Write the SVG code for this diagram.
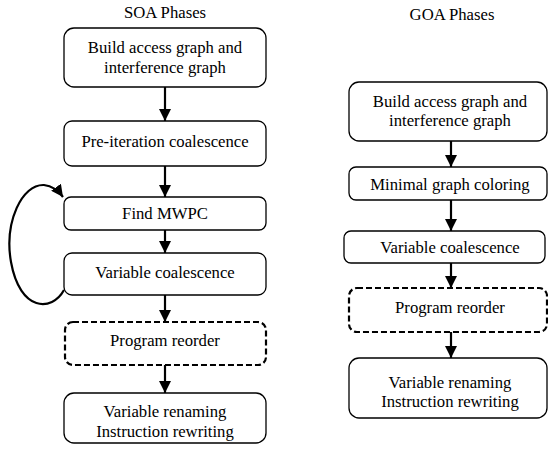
<svg xmlns="http://www.w3.org/2000/svg" width="548" height="453" viewBox="0 0 548 453" font-family="'Liberation Serif', 'Times New Roman', serif">
<defs>
<marker id="ah" markerUnits="userSpaceOnUse" markerWidth="12" markerHeight="12" viewBox="0 0 12 12" refX="12" refY="6" orient="auto">
<path d="M0,0 L12,6 L0,12 Z" fill="#000"/>
</marker>
<style>
text{font-family:"Liberation Serif","Times New Roman",serif;font-size:16.7px;fill:#000;text-anchor:middle}
.box{fill:#fff;stroke:#000;stroke-width:1.3}
.dash{fill:#fff;stroke:#000;stroke-width:2.2;stroke-dasharray:6,3}
.conn{fill:none;stroke:#000;stroke-width:2.2}
</style>
</defs>
<rect width="548" height="453" fill="#fff"/>
<text x="165" y="18">SOA Phases</text>
<text x="452" y="20">GOA Phases</text>
<g id="connectors">
<line class="conn" x1="165" y1="87" x2="165" y2="121" marker-end="url(#ah)"/>
<line class="conn" x1="165" y1="166" x2="165" y2="197" marker-end="url(#ah)"/>
<line class="conn" x1="165" y1="230" x2="165" y2="253" marker-end="url(#ah)"/>
<line class="conn" x1="165" y1="295" x2="165" y2="322" marker-end="url(#ah)"/>
<line class="conn" x1="165" y1="365" x2="165" y2="393" marker-end="url(#ah)"/>
<path class="conn" d="M64,290 C52,312 20,312 11,262 C4,222 22,184 44,185 C52,186 58,190 63,197" marker-end="url(#ah)"/>
<line class="conn" x1="451" y1="141" x2="451" y2="167" marker-end="url(#ah)"/>
<line class="conn" x1="451" y1="200" x2="451" y2="231" marker-end="url(#ah)"/>
<line class="conn" x1="451" y1="263" x2="451" y2="288" marker-end="url(#ah)"/>
<line class="conn" x1="451" y1="332" x2="451" y2="358" marker-end="url(#ah)"/>
</g>
<g id="soa1"><rect class="box" x="64" y="28" width="202" height="59" rx="10"/><text x="165" y="53">Build access graph and</text><text x="165" y="73">interference graph</text></g>
<g id="soa2"><rect class="box" x="64" y="121" width="202" height="45" rx="8"/><text x="165" y="147">Pre-iteration coalescence</text></g>
<g id="soa3"><rect class="box" x="64" y="197" width="202" height="33" rx="7"/><text x="165" y="219">Find MWPC</text></g>
<g id="soa4"><rect class="box" x="64" y="253" width="202" height="42" rx="8"/><text x="165" y="278">Variable coalescence</text></g>
<g id="soa5"><rect class="dash" x="65" y="322" width="201" height="43" rx="8"/><text x="165" y="346">Program reorder</text></g>
<g id="soa6"><rect class="box" x="64" y="393" width="202" height="50" rx="10"/><text x="165" y="417">Variable renaming</text><text x="165" y="437">Instruction rewriting</text></g>
<g id="goa1"><rect class="box" x="349" y="82" width="198" height="59" rx="10"/><text x="450" y="107">Build access graph and</text><text x="450" y="126">interference graph</text></g>
<g id="goa2"><rect class="box" x="349" y="167" width="198" height="33" rx="7"/><text x="450" y="190">Minimal graph coloring</text></g>
<g id="goa3"><rect class="box" x="344" y="231" width="201" height="32" rx="7"/><text x="450" y="253">Variable coalescence</text></g>
<g id="goa4"><rect class="dash" x="349" y="288" width="198" height="44" rx="8"/><text x="450" y="313">Program reorder</text></g>
<g id="goa5"><rect class="box" x="349" y="358" width="198" height="60" rx="10"/><text x="450" y="388">Variable renaming</text><text x="450" y="407">Instruction rewriting</text></g>
</svg>
